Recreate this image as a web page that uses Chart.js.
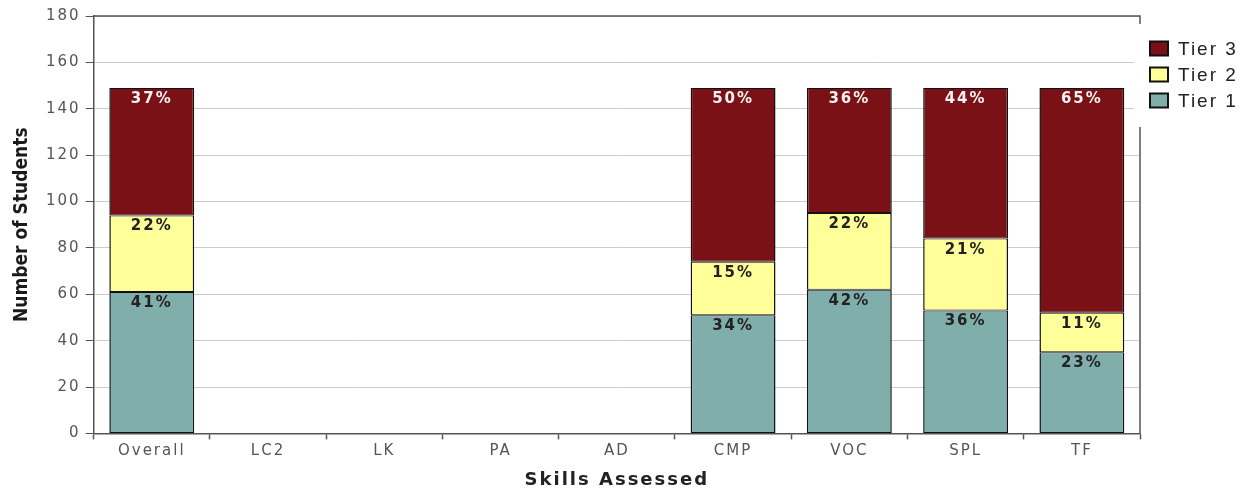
<!DOCTYPE html>
<html lang="en">
<head>
  <meta charset="UTF-8">
  <title>Skills Assessed by Tier</title>
  <style>
    html, body { margin: 0; padding: 0; background: #fff; }
    #wrap { width: 1245px; height: 488px; }
  </style>
</head>
<body>
  <div id="wrap"><canvas id="tierChart"></canvas></div>

  <script src="https://cdn.jsdelivr.net/npm/chart.js"></script>
  <script>
    const categories = ['Overall', 'LC2', 'LK', 'PA', 'AD', 'CMP', 'VOC', 'SPL', 'TF'];
    const tier1 = [61, null, null, null, null, 51, 62, 53, 35];
    const tier2 = [33, null, null, null, null, 23, 33, 31, 17];
    const tier3 = [55, null, null, null, null, 75, 54, 65, 97];
    const yTicks = { min: 0, max: 180, step: 20 };

    const colors = { tier1: '#80aeaa', tier2: '#ffff99', tier3: '#7a1116' };
    const axisGray = '#555';

    // the reference text is drawn with a little tracking
    const spacing = {
      id: 'spacing',
      beforeLayout(chart) { chart.ctx.letterSpacing = '2px'; },
      beforeDraw(chart) { chart.ctx.letterSpacing = '2px'; }
    };

    // percent of the column total, written at the top of each segment
    const pctLabels = {
      id: 'pctLabels',
      afterDatasetsDraw(chart) {
        const ctx = chart.ctx;
        const sets = chart.data.datasets;
        ctx.save();
        ctx.font = 'bold 15px "DejaVu Sans", sans-serif';
        ctx.textAlign = 'center';
        ctx.textBaseline = 'middle';
        sets.forEach((ds, di) => {
          const meta = chart.getDatasetMeta(di);
          meta.data.forEach((bar, i) => {
            const v = ds.data[i];
            if (v == null) return;
            const total = sets.reduce((s, d) => s + (d.data[i] || 0), 0);
            const pct = Math.round(v / total * 100);
            ctx.fillStyle = ds.labelColor;
            ctx.fillText(pct + '%', bar.x, bar.y + 11);
          });
        });
        ctx.restore();
      }
    };

    // top/right frame, rotated y title and the legend box
    const frame = {
      id: 'frame',
      afterDraw(chart) {
        const ctx = chart.ctx;
        const a = chart.chartArea;
        ctx.save();
        ctx.strokeStyle = axisGray;
        ctx.lineWidth = 1.5;
        ctx.beginPath();
        ctx.moveTo(a.left, a.top);
        ctx.lineTo(a.right, a.top);
        ctx.lineTo(a.right, a.bottom);
        ctx.stroke();

        ctx.letterSpacing = '0px';
        ctx.fillStyle = '#1a1a1a';
        ctx.font = 'bold 19px "DejaVu Sans Condensed", "Liberation Sans Narrow", sans-serif';
        ctx.textAlign = 'center';
        ctx.textBaseline = 'middle';
        ctx.translate(22, (a.top + a.bottom) / 2);
        ctx.rotate(-Math.PI / 2);
        ctx.fillText('Number of Students', 0, 0);
        ctx.restore();

        ctx.save();
        ctx.letterSpacing = '2px';
        ctx.fillStyle = '#fff';
        ctx.fillRect(a.right - 6, 24, 1245 - a.right + 6, 103);
        ctx.font = '19px "Liberation Sans", Arial, sans-serif';
        ctx.textBaseline = 'middle';
        const items = chart.data.datasets.slice().reverse();
        items.forEach((ds, k) => {
          const cy = 48.5 + k * 26;
          ctx.fillStyle = ds.backgroundColor;
          ctx.fillRect(a.right + 10, cy - 7, 18, 14);
          ctx.strokeStyle = '#111';
          ctx.lineWidth = 2;
          ctx.strokeRect(a.right + 10, cy - 7, 18, 14);
          ctx.fillStyle = '#222';
          ctx.fillText(ds.label, a.right + 38, cy + 1);
        });
        ctx.restore();
      }
    };

    const barStyle = {
      borderColor: '#111',
      borderWidth: { left: 1.5, right: 1.5, top: 1, bottom: 1 },
      borderSkipped: false
    };

    new Chart(document.getElementById('tierChart'), {
      type: 'bar',
      data: {
        labels: categories,
        datasets: [
          { label: 'Tier 1', data: tier1, backgroundColor: colors.tier1, labelColor: '#222', ...barStyle },
          { label: 'Tier 2', data: tier2, backgroundColor: colors.tier2, labelColor: '#222', ...barStyle },
          { label: 'Tier 3', data: tier3, backgroundColor: colors.tier3, labelColor: '#f2f2f2', ...barStyle }
        ]
      },
      options: {
        responsive: true,
        maintainAspectRatio: false,
        animation: false,
        categoryPercentage: 1,
        barPercentage: 0.73,
        layout: { padding: { left: 41, top: 16, right: 105, bottom: -3 } },
        plugins: {
          legend: { display: false },
          tooltip: { enabled: false }
        },
        scales: {
          x: {
            stacked: true,
            grid: { offset: true, drawOnChartArea: false, tickColor: axisGray, tickLength: 6, tickWidth: 1.5 },
            border: { color: axisGray, width: 1.5 },
            ticks: { color: axisGray, padding: 3, font: { family: '"DejaVu Sans", sans-serif', size: 15 } },
            title: {
              display: true,
              text: 'Skills Assessed',
              color: '#222',
              padding: { top: 6, bottom: 0 },
              font: { family: '"DejaVu Sans", sans-serif', size: 18, weight: 'bold' }
            }
          },
          y: {
            stacked: true,
            min: yTicks.min,
            max: yTicks.max,
            grid: { color: '#cccccc', tickColor: axisGray, tickLength: 8 },
            border: { color: axisGray, width: 1.5 },
            ticks: {
              stepSize: yTicks.step,
              color: axisGray,
              padding: 5,
              font: { family: '"DejaVu Sans", sans-serif', size: 15 }
            }
          }
        }
      },
      plugins: [spacing, pctLabels, frame]
    });
  </script>
</body>
</html>
